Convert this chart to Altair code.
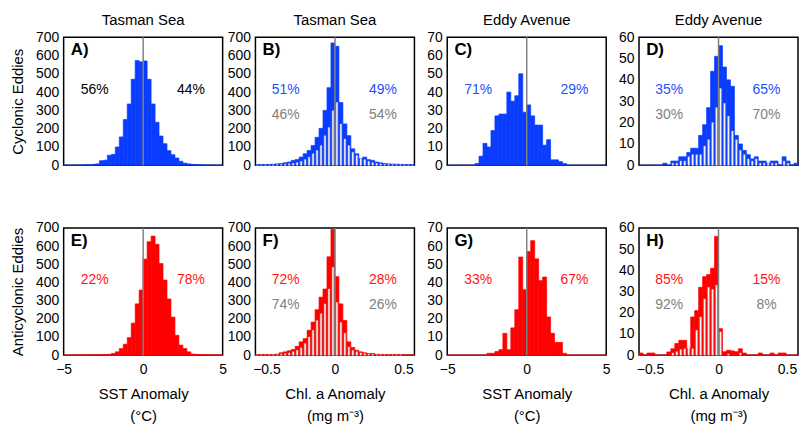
import altair as alt
import pandas as pd

FONT = "Liberation Sans"
BLUE = "#0a3cff"
BLUE_TXT = "#1f4fff"
RED = "#ff0000"
RED_TXT = "#ff1414"
GREY = "#808080"

# ---- bin structure (40 bins per panel) ----
SST_LO, SST_W = -5.0, 0.25
CHL_LO, CHL_W = -0.58, 0.029

# ---- counts ----
A_counts = [1, 1, 1, 2, 2, 3, 3, 5, 8, 25, 28, 55, 60, 100, 155, 250, 335, 470, 572, 565,
            570, 470, 335, 235, 160, 118, 80, 58, 40, 22, 12, 8, 5, 4, 3, 2, 2, 1, 1, 1]
E_counts = [0, 0, 1, 1, 1, 1, 1, 2, 2, 2, 3, 4, 9, 18, 36, 60, 96, 176, 282, 358,
            528, 624, 655, 610, 504, 413, 309, 209, 109, 55, 36, 18, 6, 4, 3, 2, 2, 1, 1, 1]
C_counts = [0, 0, 0, 0, 0, 0, 0, 1, 5, 12, 10, 19, 27, 28, 28, 40, 35, 38, 50, 29,
            33, 27, 22, 22, 11, 14, 3, 3, 2, 1, 0, 0, 0, 0, 0, 0, 0, 0, 0, 0]
G_counts = [0, 0, 0, 0, 0, 0, 0, 0, 0, 0, 1, 1, 2, 3, 12, 3, 15, 25, 54, 36,
            57, 63, 53, 41, 43, 21, 12, 7, 7, 1, 0, 0, 0, 0, 0, 0, 0, 0, 0, 0]
B_counts = [2, 3, 4, 5, 6, 8, 10, 14, 18, 27, 32, 45, 63, 81, 108, 153, 202, 300, 424, 668,
            650, 343, 226, 162, 90, 63, 36, 45, 31, 27, 18, 14, 10, 8, 7, 6, 5, 4, 3, 3]
B_white = [1, 1, 2, 2, 3, 4, 5, 7, 9, 12, 15, 22, 32, 45, 63, 81, 108, 162, 207, 298,
           343, 226, 144, 108, 72, 54, 36, 31, 22, 15, 10, 8, 6, 5, 4, 3, 3, 2, 2, 1]
F_counts = [2, 2, 3, 3, 4, 6, 13, 18, 24, 31, 49, 73, 91, 137, 182, 250, 319, 364, 541, 692,
            432, 282, 191, 73, 42, 27, 18, 13, 9, 9, 5, 4, 3, 3, 2, 2, 2, 1, 1, 1]
F_white = [1, 1, 1, 2, 2, 3, 6, 9, 12, 18, 27, 40, 64, 100, 137, 191, 228, 282, 364, 483,
           291, 180, 120, 45, 27, 18, 12, 8, 6, 5, 3, 2, 2, 1, 1, 1, 1, 0, 0, 0]
D_counts = [0, 0, 0, 0, 0, 0, 1, 0, 2, 2, 4, 4, 6, 8, 8, 14, 19, 27, 44, 51,
            56, 46, 40, 37, 14, 10, 7, 5, 3, 4, 2, 2, 1, 2, 2, 0, 4, 2, 0, 1]
D_white = [0, 0, 0, 0, 0, 0, 0, 0, 1, 1, 2, 2, 4, 5, 5, 5, 9, 12, 20, 27,
           36, 29, 23, 16, 12, 7, 5, 3, 2, 3, 1, 1, 1, 1, 1, 0, 2, 1, 0, 0]
H_counts = [1, 0, 1, 1, 0, 0, 0, 1.5, 3, 5.5, 7, 7, 3, 18, 21, 32, 37, 38, 41, 56,
            12.5, 1.6, 2.3, 2, 1.6, 3, 1, 0, 0, 0, 1, 0, 0, 1, 0, 1, 1, 0, 0, 0]
H_white = [0, 0, 0, 0, 0, 0, 0, 0, 1, 1.6, 2.6, 3, 4, 3, 11.7, 18, 26.5, 32, 31, 33,
           11, 0, 0.5, 0, 0, 1, 0, 0, 0, 0, 0, 0, 0, 0, 0, 0, 0, 0, 0, 0]

# ---- text ----
col_titles = ["Tasman Sea", "Tasman Sea", "Eddy Avenue", "Eddy Avenue"]
row_titles = ["Cyclonic Eddies", "Anticyclonic Eddies"]
letters = ["A)", "B)", "C)", "D)", "E)", "F)", "G)", "H)"]
pct_main = [("56%", "44%"), ("51%", "49%"), ("71%", "29%"), ("35%", "65%"),
            ("22%", "78%"), ("72%", "28%"), ("33%", "67%"), ("85%", "15%")]
pct_grey = [None, ("46%", "54%"), None, ("30%", "70%"),
            None, ("74%", "26%"), None, ("92%", "8%")]
sst_title = ["SST Anomaly", "(°C)"]
chl_title = ["Chl. a Anomaly", "(mg m\u207b\u00b3)"]

PW = 160  # panel plot width


def bins_df(counts, lo, w, narrow=False):
    rows = []
    for i, c in enumerate(counts):
        x0 = lo + i * w
        if narrow:
            if c <= 0:
                continue
            rows.append(dict(x=x0 + 0.3 * w, x2=x0 + 0.7 * w, y=c, y0=0))
        else:
            rows.append(dict(x=x0, x2=x0 + w, y=c, y0=0))
    return pd.DataFrame(rows)


def panel(idx, kind, counts, white, ymax, ystep, color, txt_color, bottom):
    if kind == "sst":
        dom, lo, w = [-5, 5], SST_LO, SST_W
        xt, fmt, xtitle, px = [-5, 0, 5], "d", sst_title, [-3.05, 3.0]
    else:
        dom, lo, w = [-0.58, 0.58], CHL_LO, CHL_W
        xt, fmt, xtitle, px = [-0.5, 0, 0.5], ".1~f", chl_title, [-0.36, 0.35]
    xs = alt.Scale(domain=dom, nice=False, zero=False)
    ys = alt.Scale(domain=[0, ymax], nice=False)
    col = idx % 4
    if bottom:
        xaxis = alt.Axis(values=xt, format=fmt, labelFont=FONT, labelFontSize=14,
                         labelColor="black", labelPadding=7, labelFlush=False, ticks=False,
                         domain=False, grid=False, title=xtitle, titleFont=FONT,
                         titleFontSize=15, titleFontWeight="normal", titleColor="black",
                         titlePadding=11, titleLineHeight=22)
    else:
        xaxis = None
    ykw = dict(values=list(range(0, ymax + 1, ystep)), labelFont=FONT, labelFontSize=14,
               labelColor="black", labelPadding=5, ticks=False, domain=False, grid=False)
    if col == 0:
        yaxis = alt.Axis(title=row_titles[idx // 4], titleFont=FONT, titleFontSize=15,
                         titleFontWeight="normal", titleColor="black", titlePadding=10, **ykw)
    else:
        yaxis = alt.Axis(title=None, **ykw)

    X = lambda f: alt.X(f, scale=xs, axis=xaxis)
    Y = lambda f: alt.Y(f, scale=ys, axis=yaxis)

    layers = [
        alt.Chart(bins_df(counts, lo, w)).mark_rect(color=color, stroke=color, strokeWidth=0.7)
        .encode(x=X("x:Q"), x2="x2:Q", y=Y("y:Q"), y2="y0:Q")
    ]
    if white is not None:
        layers.append(
            alt.Chart(bins_df(white, lo, w, narrow=True))
            .mark_rect(fill="white", stroke="#b8b8b8", strokeWidth=0.5)
            .encode(x=X("x:Q"), x2="x2:Q", y=Y("y:Q"), y2="y0:Q")
        )
    layers.append(
        alt.Chart(pd.DataFrame({"x": [0]})).mark_rule(color=GREY, strokeWidth=1.5)
        .encode(x=X("x:Q"))
    )
    main = pct_main[idx]
    trows = [dict(x=px[0], y=0.588 * ymax, t=main[0], c=txt_color),
             dict(x=px[1], y=0.588 * ymax, t=main[1], c=txt_color)]
    if pct_grey[idx]:
        g = pct_grey[idx]
        trows += [dict(x=px[0], y=0.39 * ymax, t=g[0], c=GREY),
                  dict(x=px[1], y=0.39 * ymax, t=g[1], c=GREY)]
    layers.append(
        alt.Chart(pd.DataFrame(trows)).mark_text(font=FONT, fontSize=14, baseline="middle")
        .encode(x=X("x:Q"), y=Y("y:Q"), text="t:N", color=alt.Color("c:N", scale=None))
    )
    ldf = pd.DataFrame([dict(x=dom[0] + 0.045 * (dom[1] - dom[0]), y=0.96 * ymax, t=letters[idx])])
    layers.append(
        alt.Chart(ldf).mark_text(font=FONT, fontSize=17, fontWeight="bold", align="left",
                                 baseline="top", color="black")
        .encode(x=X("x:Q"), y=Y("y:Q"), text="t:N")
    )
    ch = alt.layer(*layers)
    if not bottom:
        ch = ch.properties(width=PW, height=129,
                           title=alt.TitleParams(col_titles[col], font=FONT, fontSize=15,
                                                 fontWeight="normal", color="black", offset=2))
    else:
        ch = ch.properties(width=PW, height=128)
    return ch


top = [
    panel(0, "sst", A_counts, None, 700, 100, BLUE, "black", False),
    panel(1, "chl", B_counts, B_white, 700, 100, BLUE, BLUE_TXT, False),
    panel(2, "sst", C_counts, None, 70, 10, BLUE, BLUE_TXT, False),
    panel(3, "chl", D_counts, D_white, 60, 10, BLUE, BLUE_TXT, False),
]
bot = [
    panel(4, "sst", E_counts, None, 700, 100, RED, RED_TXT, True),
    panel(5, "chl", F_counts, F_white, 700, 100, RED, RED_TXT, True),
    panel(6, "sst", G_counts, None, 70, 10, RED, RED_TXT, True),
    panel(7, "chl", H_counts, H_white, 60, 10, RED, RED_TXT, True),
]

chart = alt.vconcat(
    alt.hconcat(*top, spacing=33, bounds="flush"),
    alt.hconcat(*bot, spacing=33, bounds="flush"),
    spacing=47,
).configure_view(stroke="black", strokeWidth=1.5).properties(
    padding={"left": 1, "top": 3, "right": 0, "bottom": 0}, background="white"
)

chart.save("out.html", embed_options={"renderer": "svg", "actions": False})
